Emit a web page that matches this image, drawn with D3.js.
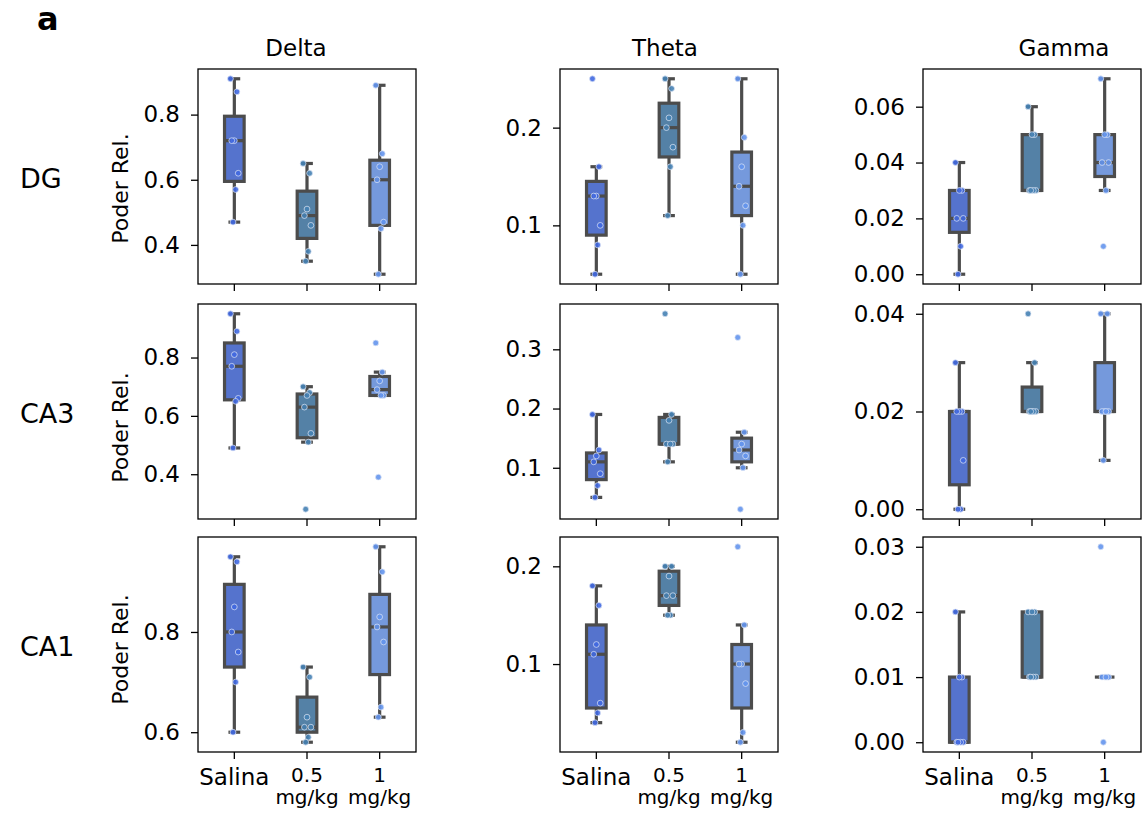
<!DOCTYPE html>
<html><head><meta charset="utf-8">
<script src="https://cdn.jsdelivr.net/npm/d3@7"></script>
<style>
body{margin:0;background:#fff}
svg{display:block}
text{font-family:"DejaVu Sans",sans-serif;fill:#000}
</style>
</head><body>
<svg id="chart" width="1143" height="824"></svg>
<script>
// ---------- data ----------
const groups = ["Salina", "0.5 mg/kg", "1 mg/kg"];
const groupLabelLines = [["Salina"], ["0.5", "mg/kg"], ["1", "mg/kg"]];
const bandNames = ["Delta", "Theta", "Gamma"];
const regionNames = ["DG", "CA3", "CA1"];
const yLabel = "Poder Rel.";
const panelLetter = "a";

// values per group: [Salina, 0.5 mg/kg, 1 mg/kg]
const dgDelta   = [[0.91,0.87,0.72,0.72,0.62,0.57,0.47],[0.65,0.62,0.51,0.49,0.46,0.38,0.35],[0.89,0.68,0.64,0.60,0.47,0.45,0.31]];
const dgTheta   = [[0.25,0.16,0.13,0.13,0.10,0.08,0.05],[0.25,0.24,0.21,0.20,0.18,0.16,0.11],[0.25,0.19,0.16,0.14,0.12,0.10,0.05]];
const dgGamma   = [[0.04,0.03,0.03,0.02,0.02,0.01,0.00],[0.06,0.05,0.05,0.03,0.03,0.03,0.03],[0.07,0.05,0.05,0.04,0.04,0.03,0.01]];
const ca3Delta  = [[0.95,0.89,0.81,0.77,0.66,0.65,0.49],[0.70,0.68,0.67,0.63,0.54,0.51,0.28],[0.85,0.75,0.72,0.69,0.67,0.67,0.39]];
const ca3Theta  = [[0.19,0.13,0.12,0.11,0.09,0.07,0.05],[0.36,0.19,0.18,0.14,0.14,0.14,0.11],[0.32,0.16,0.14,0.13,0.12,0.10,0.03]];
const ca3Gamma  = [[0.03,0.02,0.02,0.02,0.01,0.00,0.00],[0.04,0.03,0.02,0.02,0.02,0.02,0.02],[0.04,0.04,0.02,0.02,0.02,0.02,0.01]];
const ca1Delta  = [[0.95,0.94,0.85,0.80,0.76,0.70,0.60],[0.73,0.71,0.63,0.61,0.61,0.59,0.58],[0.97,0.92,0.83,0.81,0.78,0.65,0.63]];
const ca1Theta  = [[0.18,0.16,0.12,0.11,0.06,0.05,0.04],[0.20,0.20,0.19,0.17,0.17,0.15,0.15],[0.22,0.14,0.10,0.10,0.08,0.03,0.02]];
const ca1Gamma  = [[0.02,0.01,0.01,0.00,0.00,0.00,0.00],[0.02,0.02,0.02,0.01,0.01,0.01,0.01],[0.03,0.01,0.01,0.01,0.01,0.01,0.00]];

const panelData = [[dgDelta, dgTheta, dgGamma],[ca3Delta, ca3Theta, ca3Gamma],[ca1Delta, ca1Theta, ca1Gamma]];

const yTicksDelta  = [[0.4,0.6,0.8],[0.4,0.6,0.8],[0.6,0.8]];
const yTicksTheta  = [[0.1,0.2],[0.1,0.2,0.3],[0.1,0.2]];
const yTicksGamma  = [[0.00,0.02,0.04,0.06],[0.00,0.02,0.04],[0.00,0.01,0.02,0.03]];
const yTickDecimals = [1, 1, 2];

// ---------- style / layout ----------
const boxFill   = ["#5573cd", "#5481a6", "#7599dc"];
const pointFill = ["#4169e1", "#4682b4", "#6495ed"];
const lineCol = "#4c4c4c";
const colX = [198, 560, 923];
const rowY = [69, 304, 537];
const panelW = 218, panelH = 215;
const titleX = [296, 665, 1064];
const yLabelShift = [12, 16, 5];

const svg = d3.select("#chart");

function stats(v){
  const s = v.slice().sort(d3.ascending);
  const q1 = d3.quantileSorted(s, 0.25), med = d3.quantileSorted(s, 0.5), q3 = d3.quantileSorted(s, 0.75);
  const iqr = q3 - q1, eps = 1e-9;
  const lo = d3.min(s.filter(d => d >= q1 - 1.5*iqr - eps));
  const hi = d3.max(s.filter(d => d <= q3 + 1.5*iqr + eps));
  return {q1, med, q3, lo, hi};
}

svg.append("text").attr("x", 37).attr("y", 30).attr("font-size", 32).attr("font-weight", "bold").text(panelLetter);

bandNames.forEach((b, c) => {
  svg.append("text").attr("x", titleX[c]).attr("y", 56).attr("text-anchor", "middle").attr("font-size", 23).text(b);
});

const tickSets = [yTicksDelta, yTicksTheta, yTicksGamma];

regionNames.forEach((reg, r) => {
  svg.append("text").attr("x", 20).attr("y", rowY[r] + panelH/2 + 2).attr("dy", "0.36em").attr("font-size", 27).text(reg);
  bandNames.forEach((b, c) => {
    const data = panelData[r][c];
    const x0 = colX[c], y0 = rowY[r];
    const all = data.flat();
    const mn = d3.min(all), mx = d3.max(all), rg = mx - mn;
    const y = d3.scaleLinear().domain([mn - 0.05*rg, mx + 0.05*rg]).range([y0 + panelH, y0]);
    const x = d3.scaleBand().domain(groups).range([x0, x0 + panelW]).padding(0);
    const bw = x.bandwidth();
    const boxW = bw * 0.27, capW = boxW * 0.6;
    const g = svg.append("g");

    // y axis
    const ya = d3.axisLeft(y).tickValues(tickSets[c][r]).tickFormat(d3.format("." + yTickDecimals[c] + "f")).tickSize(7).tickPadding(11);
    const yg = g.append("g").attr("transform", `translate(${x0},0)`).call(ya);
    yg.select(".domain").remove();
    yg.selectAll(".tick line").attr("stroke", "#000").attr("stroke-width", 1.3);
    yg.selectAll(".tick text").attr("font-size", 23).attr("font-family", "DejaVu Sans").attr("fill", "#000");

    // x axis
    const xa = d3.axisBottom(x).tickSize(7).tickFormat("");
    const xg = g.append("g").attr("transform", `translate(0,${y0 + panelH})`).call(xa);
    xg.select(".domain").remove();
    xg.selectAll(".tick line").attr("stroke", "#000").attr("stroke-width", 1.3);
    xg.selectAll(".tick text").remove();
    if (r === regionNames.length - 1) {
      groups.forEach((gr, i) => {
        const lines = groupLabelLines[i];
        const cx = x(gr) + bw/2;
        if (lines.length === 1) {
          g.append("text").attr("x", cx).attr("y", y0 + panelH + 33).attr("text-anchor", "middle").attr("font-size", 23).text(lines[0]);
        } else {
          g.append("text").attr("x", cx).attr("y", y0 + panelH + 29.5).attr("text-anchor", "middle").attr("font-size", 20).text(lines[0]);
          g.append("text").attr("x", cx).attr("y", y0 + panelH + 52).attr("text-anchor", "middle").attr("font-size", 20).text(lines[1]);
        }
      });
    }

    // boxes
    data.forEach((vals, i) => {
      const s = stats(vals);
      const cx = x(groups[i]) + bw/2;
      const bg = g.append("g");
      bg.append("line").attr("x1", cx).attr("x2", cx).attr("y1", y(s.q3)).attr("y2", y(s.hi)).attr("stroke", lineCol).attr("stroke-width", 3.2);
      bg.append("line").attr("x1", cx).attr("x2", cx).attr("y1", y(s.q1)).attr("y2", y(s.lo)).attr("stroke", lineCol).attr("stroke-width", 3.2);
      [s.hi, s.lo].forEach(v => {
        bg.append("line").attr("x1", cx - capW/2).attr("x2", cx + capW/2).attr("y1", y(v)).attr("y2", y(v)).attr("stroke", lineCol).attr("stroke-width", 3.2);
      });
      bg.append("rect").attr("x", cx - boxW/2).attr("width", boxW)
        .attr("y", y(s.q3)).attr("height", Math.max(0, y(s.q1) - y(s.q3)))
        .attr("fill", boxFill[i]).attr("stroke", lineCol).attr("stroke-width", 3.2);
      bg.append("line").attr("x1", cx - boxW/2).attr("x2", cx + boxW/2).attr("y1", y(s.med)).attr("y2", y(s.med)).attr("stroke", lineCol).attr("stroke-width", 3.2);
      // points
      bg.selectAll("circle").data(vals).join("circle")
        .attr("cx", (d, j) => cx + (((j * 5) % 7) - 3) * 1.3)
        .attr("cy", d => y(d))
        .attr("r", 2.9)
        .attr("fill", pointFill[i]).attr("fill-opacity", 0.9)
        .attr("stroke", "#dfe6f5").attr("stroke-width", 0.7);
    });

    // frame
    g.append("rect").attr("x", x0).attr("y", y0).attr("width", panelW).attr("height", panelH)
      .attr("fill", "none").attr("stroke", "#000").attr("stroke-width", 1.3);

    if (c === 0) {
      g.append("text").attr("transform", `translate(120,${y0 + panelH/2 + yLabelShift[r]}) rotate(-90)`)
        .attr("text-anchor", "middle").attr("dy", "0.36em").attr("font-size", 22).text(yLabel);
    }
  });
});
</script>
</body></html>
